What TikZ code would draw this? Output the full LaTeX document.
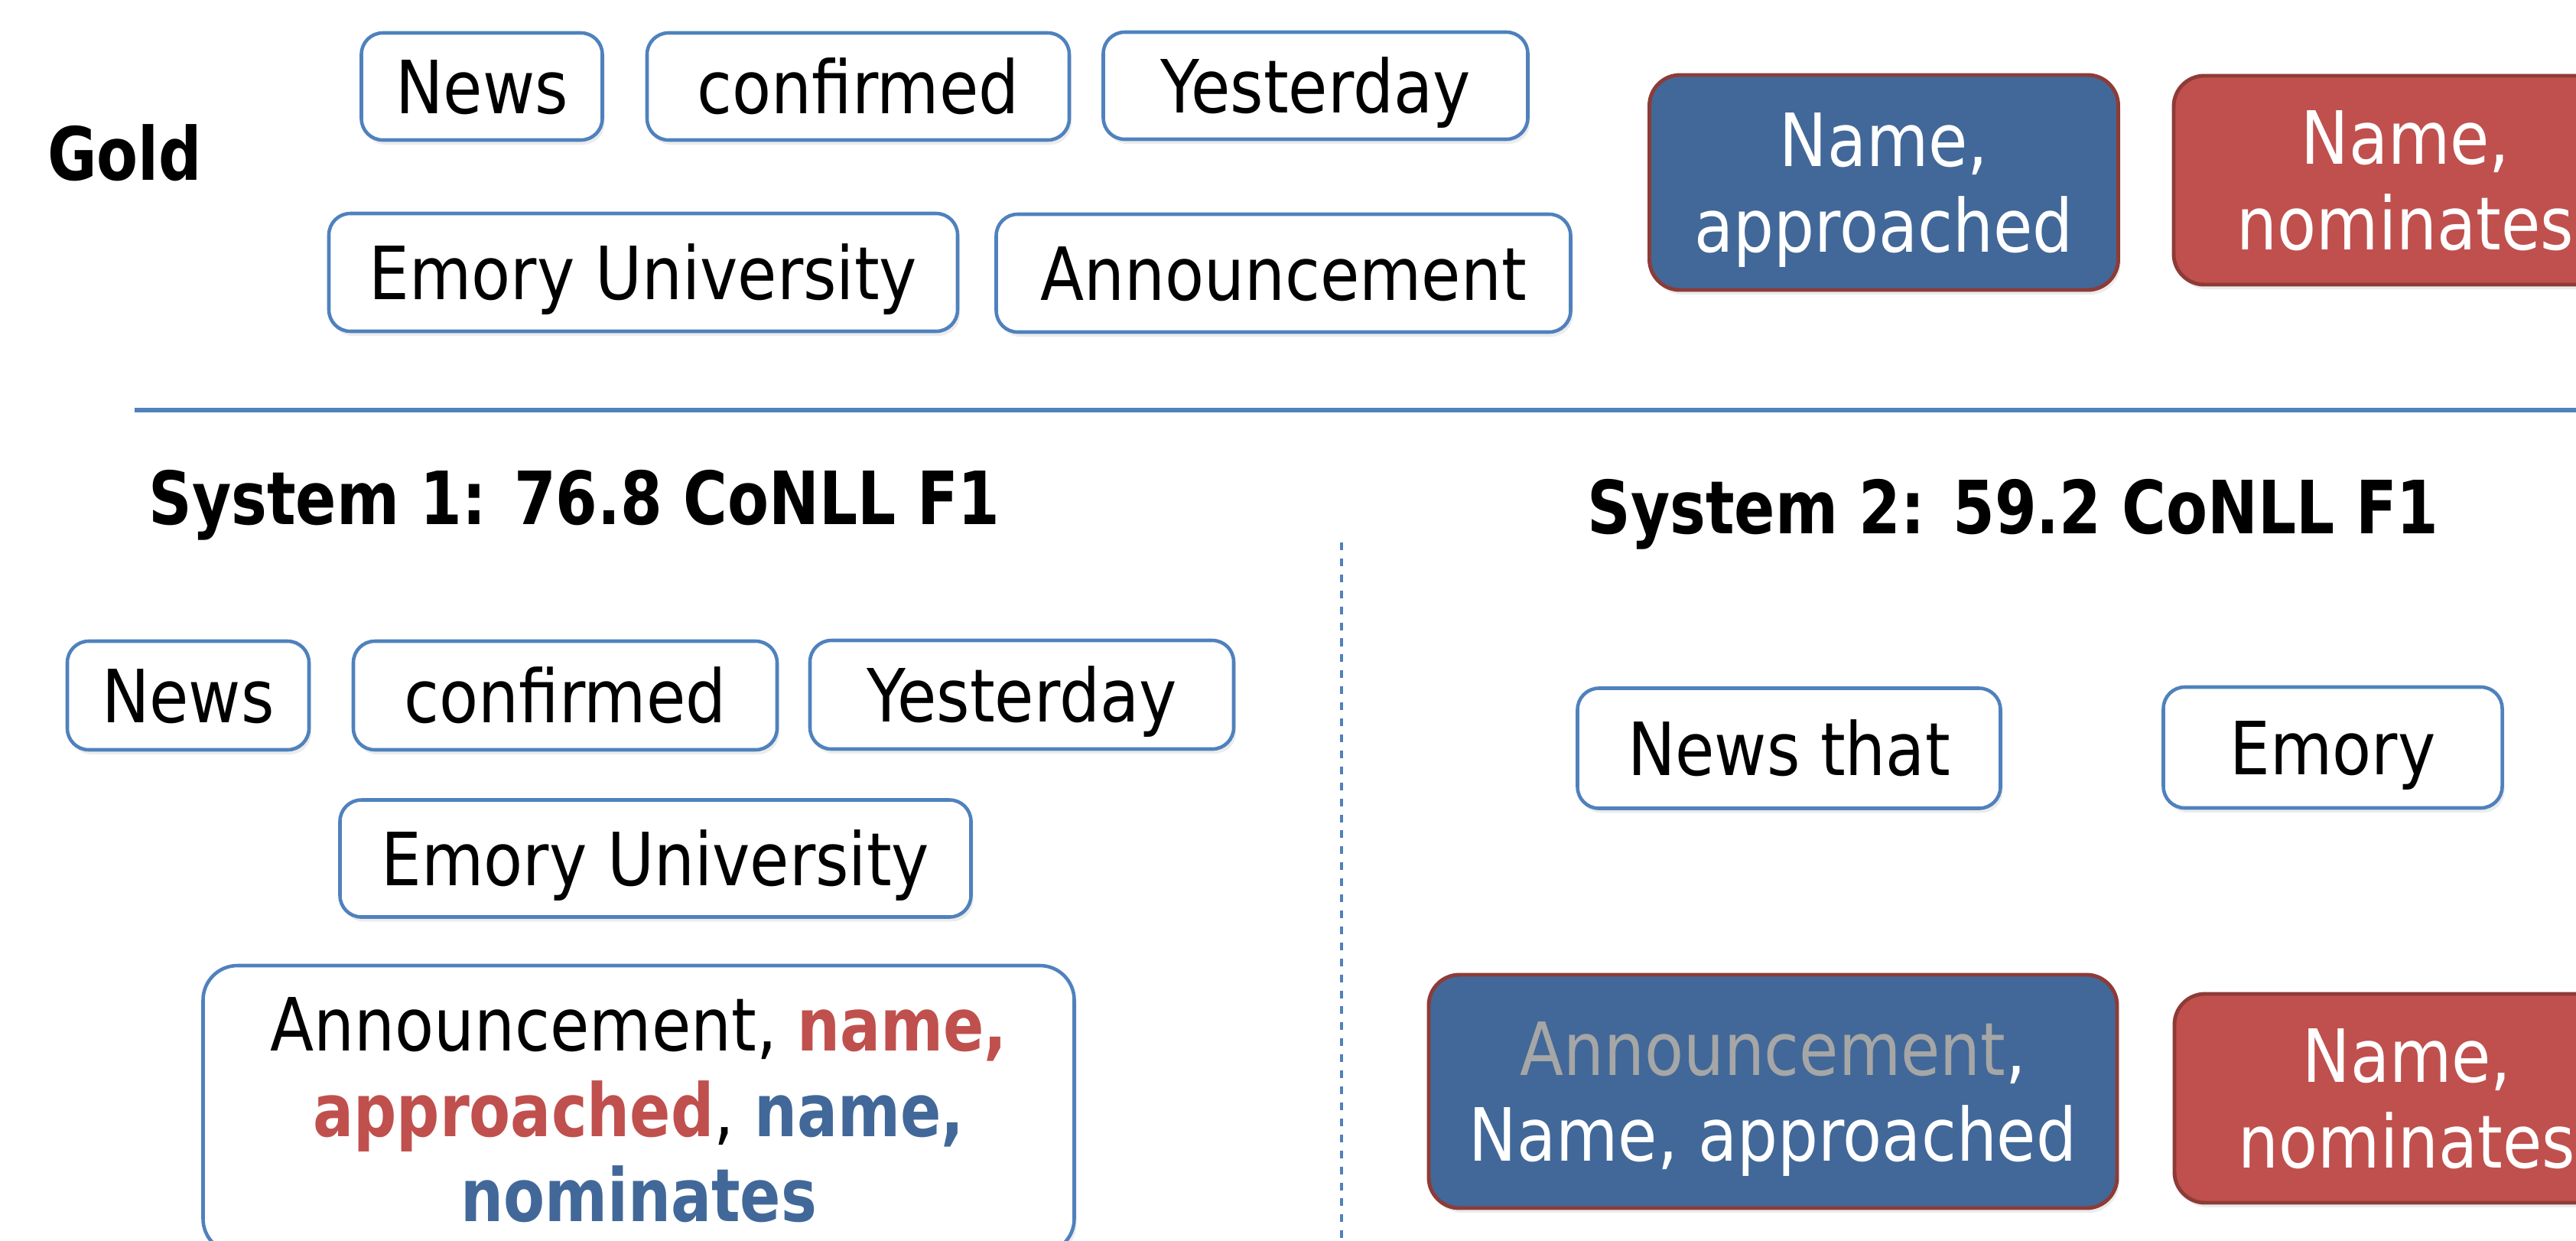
\documentclass[tikz,border=0pt]{standalone}
\usepackage{fontspec}
\setmainfont{DejaVu Sans}[FakeStretch=0.87,BoldFeatures={FakeStretch=0.82}]
\usepackage{xcolor}
\usetikzlibrary{shadows}

\definecolor{accblue}{HTML}{4F81BD}
\definecolor{darkblue}{HTML}{416898}
\definecolor{accred}{HTML}{C0504D}
\definecolor{darkred}{HTML}{8E3B38}
\definecolor{midgray}{HTML}{A6A6A6}

\newcommand{\slidefont}{\fontsize{27.3}{31.6}\selectfont}

\begin{document}
\begin{tikzpicture}[thick,
    box base/.style={line width=1.3pt,font=\slidefont,inner sep=0pt,
      drop shadow={shadow xshift=0.03cm,shadow yshift=-0.06cm,opacity=0.15}},
    word node/.style={box base,draw=accblue,fill=white,rounded corners=0.28cm,
      text height=0.70cm,text depth=0pt},
    list node/.style={box base,draw=accblue,fill=white,rounded corners=0.45cm,
      align=center,text depth=0pt},
    name node/.style={box base,draw=darkred,fill=#1,text=white,line width=1.4pt,
      rounded corners=0.4cm,align=center,text depth=0pt},
    head node/.style={font=\slidefont\bfseries,anchor=base,inner sep=0pt}]

  \clip (0,0) rectangle (33.68,-16.21);

  % gold mentions
  \node[head node] (gold) at (1.63,-2.35) {Gold};
  \node[word node,minimum width=3.15cm,minimum height=1.40cm] (gnews) at (6.30,-1.13) {News};
  \node[word node,minimum width=5.52cm,minimum height=1.40cm] (gconf) at (11.22,-1.13) {confirmed};
  \node[word node,minimum width=5.55cm,minimum height=1.40cm] (gyest) at (17.20,-1.12) {Yesterday};
  \node[word node,minimum width=8.22cm,minimum height=1.54cm] (guni) at (8.41,-3.56) {Emory University};
  \node[word node,minimum width=7.51cm,minimum height=1.54cm] (gann) at (16.78,-3.57) {Announcement};
  \node[name node=darkblue,minimum width=6.13cm,minimum height=2.81cm] (gappr) at (24.63,-2.385) {Name,\\approached};
  \node[name node=accred,minimum width=6.06cm,minimum height=2.73cm] (gnom) at (31.45,-2.355) {Name,\\nominates};

  \draw[accblue,line width=1.7pt] (1.76,-5.36) -- (33.68,-5.36);
  \draw[accblue,line width=1.4pt,dash pattern=on 2.85pt off 3.1pt] (17.54,-7.09) -- (17.54,-16.21);

  % system 1
  \node[head node] (sys1) at (7.51,-6.85) {System 1: 76.8 CoNLL F1};
  \node[word node,minimum width=3.16cm,minimum height=1.42cm] (snews) at (2.46,-9.09) {News};
  \node[word node,minimum width=5.54cm,minimum height=1.42cm] (sconf) at (7.39,-9.09) {confirmed};
  \node[word node,minimum width=5.54cm,minimum height=1.42cm] (syest) at (13.36,-9.08) {Yesterday};
  \node[word node,minimum width=8.25cm,minimum height=1.53cm] (suni) at (8.57,-11.22) {Emory University};
  \node[list node,minimum width=11.39cm,minimum height=3.76cm] (sall) at (8.35,-14.50)
    {Announcement, \textcolor{accred}{\textbf{name,}}\\
     \textcolor{accred}{\textbf{approached}}, \textcolor{darkblue}{\textbf{name,}}\\
     \textcolor{darkblue}{\textbf{nominates}}};

  % system 2
  \node[head node] (sys2) at (26.32,-6.97) {System 2: 59.2 CoNLL F1};
  \node[word node,minimum width=5.53cm,minimum height=1.57cm] (tnews) at (23.39,-9.78) {News that};
  \node[word node,minimum width=4.43cm,minimum height=1.58cm] (temory) at (30.50,-9.77) {Emory};
  \node[name node=darkblue,minimum width=9.00cm,minimum height=3.05cm] (tappr) at (23.18,-14.265)
    {\textcolor{midgray}{Announcement},\\Name, approached};
  \node[name node=accred,minimum width=6.08cm,minimum height=2.73cm] (tnom) at (31.47,-14.355) {Name,\\nominates};
\end{tikzpicture}
\end{document}
